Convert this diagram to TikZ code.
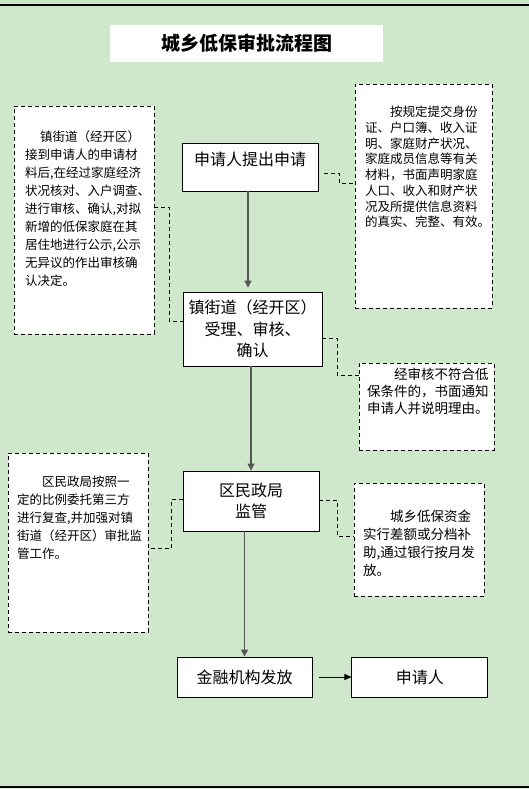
\documentclass[tikz,border=0pt]{standalone}
\usepackage{fontspec}
\setmainfont{Noto Sans CJK SC}
\usepackage{xcolor}
\definecolor{pagegreen}{RGB}{207,232,204}
\definecolor{arrowgray}{RGB}{85,85,85}
\usepackage{tikz}
\usetikzlibrary{
  arrows.meta,
  positioning
}
\tikzset{
  titlebox/.style={fill=white, inner sep=0pt,
    minimum width=273pt, minimum height=37pt,
    font=\fontsize{19}{22}\selectfont\bfseries},
  stepbox/.style={draw, fill=white, line width=0.9pt, inner sep=0pt,
    align=center, font=\fontsize{16}{21.5}\selectfont},
  notebox/.style={draw, fill=white, dash pattern=on 4pt off 3pt,
    line width=0.8pt, inner sep=0pt},
  notetext/.style={anchor=north west, inner sep=0pt, align=left,
    font=\fontsize{12.5}{18}\selectfont},
  link/.style={dash pattern=on 4pt off 3pt, line width=0.8pt},
  arr/.style={-{Triangle[length=7pt, width=7pt]}, line width=1.3pt, arrowgray},
  harr/.style={-{Triangle[length=7pt, width=6pt]}, line width=0.9pt, black},
}

\begin{document}
\begin{tikzpicture}[x=1pt, y=-1pt]
  % Page
  \fill[pagegreen] (0,0) rectangle (529,789);
  \useasboundingbox (0,0) rectangle (529,789);
  \draw[line width=1.5pt] (0,5) -- (529,5);
  \draw[line width=1.5pt] (0,787) -- (529,787);

  % Title
  \node[titlebox] (title) at (246.5,43.5) {城乡低保审批流程图};

  % Main steps
  \node[stepbox, minimum width=136pt, minimum height=48pt,
        text height=22pt, text depth=26pt] (apply) at (250,167) {申请人提出申请};
  \node[stepbox, minimum width=139pt, minimum height=74pt] (accept) at (252.5,329)
    {镇街道（经开区）\\受理、审核、\\确认};
  \node[stepbox, minimum width=136pt, minimum height=60pt] (super) at (251,501)
    {区民政局\\监管};
  \node[stepbox, minimum width=135pt, minimum height=40pt] (fund) at (244.5,677)
    {金融机构发放};
  \node[stepbox, minimum width=136pt, minimum height=40pt,
        right=39pt of fund] (recv) {申请人};

  % Notes
  \node[notebox, minimum width=140pt, minimum height=228pt] (nL1) at (84,220) {};
  \node[notetext] (nL1t) at (25,131) {%
    \hspace*{15pt}镇街道（经开区）\\
    接到申请人的申请材\\
    料后,在经过家庭经济\\
    状况核对、入户调查、\\
    进行审核、确认,对拟\\
    新增的低保家庭在其\\
    居住地进行公示,公示\\
    无异议的作出审核确\\
    认决定。};

  \node[notebox, minimum width=137pt, minimum height=224pt] (nR1) at (423.5,196) {};
  \node[notetext, font=\fontsize{12.5}{15.7}\selectfont] (nR1t) at (365,106) {%
    \hspace*{2em}按规定提交身份\\
    证、户口簿、收入证\\
    明、家庭财产状况、\\
    家庭成员信息等有关\\
    材料，书面声明家庭\\
    人口、收入和财产状\\
    况及所提供信息资料\\
    的真实、完整、有效。};

  \node[notebox, minimum width=135pt, minimum height=87pt] (nR2) at (426.5,406.5) {};
  \node[notetext, font=\fontsize{13.5}{16.7}\selectfont] (nR2t) at (367,368) {%
    \hspace*{2em}经审核不符合低\\
    保条件的，书面通知\\
    申请人并说明理由。};

  \node[notebox, minimum width=140pt, minimum height=179pt] (nL3) at (78,542.5) {};
  \node[notetext] (nL3t) at (17,476) {%
    \hspace*{2em}区民政局按照一\\
    定的比例委托第三方\\
    进行复查,并加强对镇\\
    街道（经开区）审批监\\
    管工作。};

  \node[notebox, minimum width=130pt, minimum height=113pt] (nR3) at (419,539.5) {};
  \node[notetext, font=\fontsize{13.5}{18}\selectfont] (nR3t) at (363,510) {%
    \hspace*{2em}城乡低保资金\\
    实行差额或分档补\\
    助,通过银行按月发\\
    放。};

  % Flow arrows
  \draw[arr, shorten >=4pt] (apply.south -| 248,0) -- (accept.north -| 248,0);
  \draw[arr] (accept.south -| super.north) -- (super.north);
  \draw[arr] (super.south -| fund.north) -- (fund.north);
  \draw[harr, shorten <=7pt] (fund.east) -- (recv.west);

  % Dashed links to notes
  \draw[link] ([shift={(6,6)}]apply.east) -- ++(15,0) -- ++(0,10) -- (nR1.west |- 0,183);
  \draw[link] (nL1.east |- 0,207) -- ++(15,0) -- ++(0,114) -- (accept.west |- 0,321);
  \draw[link] ([shift={(0,9)}]accept.east) -- ++(15,0) -- ++(0,37) -- (nR2.west |- 0,375);
  \draw[link] ([shift={(0,-2)}]super.west) -- ++(-11,0) -- ++(0,49) -- (nL3.east |- 0,548);
  \draw[link] ([shift={(0,-1)}]super.east) -- ++(18,0) -- ++(0,36) -- (nR3.west |- 0,536);
\end{tikzpicture}
\end{document}
